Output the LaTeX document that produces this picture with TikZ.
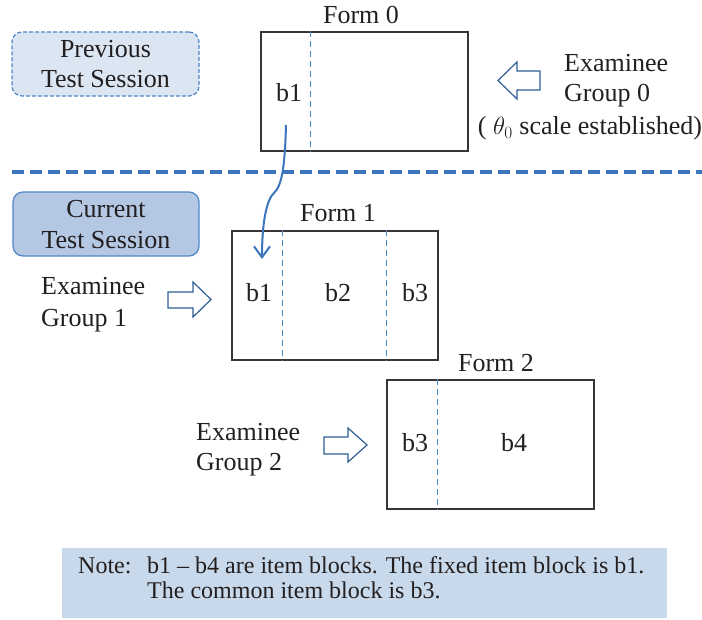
\documentclass[tikz,border=0pt]{standalone}
\usepackage{fontspec}
\setmainfont{Liberation Serif}
\usetikzlibrary{arrows.meta}
\definecolor{txt}{HTML}{231F20}
\definecolor{prevfill}{HTML}{DBE6F2}
\definecolor{curfill}{HTML}{B4C8E4}
\definecolor{boxedge}{HTML}{4F86C6}
\definecolor{notefill}{HTML}{C8D9EB}
\definecolor{sepblue}{HTML}{3B76BC}
\definecolor{innerblue}{HTML}{4A8AC9}
\definecolor{arrowblue}{HTML}{2E5E95}
\begin{document}
\begin{tikzpicture}[x=1pt,y=-1pt,
  lbl/.style={text=txt,inner sep=0pt,anchor=base,font=\fontsize{26}{31}\selectfont},
  notetxt/.style={text=txt,inner sep=0pt,anchor=base west,font=\fontsize{24}{25}\selectfont},
  formbox/.style={draw=txt!90,line width=1.4pt,inner sep=0pt,fill=white},
  prevbox/.style={draw=boxedge,dash pattern=on 4pt off 2pt,line width=1.2pt,fill=prevfill,rounded corners=10pt,inner sep=0pt},
  curbox/.style={draw=boxedge,line width=1.2pt,fill=curfill,rounded corners=10pt,inner sep=0pt},
  innerdash/.style={draw=innerblue,line width=1.5pt,dash pattern=on 6pt off 4pt},
  blockarrow/.style={draw=arrowblue,line width=1.2pt,fill=white,line join=miter},
]
\useasboundingbox (0,0) rectangle (702,620);

% session boxes
\node[prevbox,minimum width=187pt,minimum height=64pt] (prev) at (105.5,64) {};
\node[lbl] (prevA) at (105.5,58) {Previous};
\node[lbl] (prevB) at (105.5,88) {Test Session};
\node[curbox,minimum width=186pt,minimum height=64pt] (cur) at (106,224) {};
\node[lbl] (curA) at (106,218) {Current};
\node[lbl] (curB) at (106,249) {Test Session};

% separator
\draw[sepblue,line width=4pt,dash pattern=on 12pt off 6pt] (12,172) -- (702,172);

% Form 0
\node[lbl] (form0lbl) at (361,24) {Form 0};
\node[formbox,minimum width=207pt,minimum height=119pt] (f0) at (364.5,91.5) {};
\draw[innerdash] ([xshift=50pt]f0.north west) -- ([xshift=50pt]f0.south west);
\node[lbl] (f0b1) at (289,102) {b1};

% Group 0
\node[lbl,anchor=base west] (g0a) at (564,72) {Examinee};
\node[lbl,anchor=base west] (g0b) at (564,102) {Group 0};
\node[lbl] (g0c) at (590,135) {( $\theta_0$ scale established)};
\draw[blockarrow] (498,80.5) -- (517,62) -- (517,71) -- (540,71) -- (540,90) -- (517,90) -- (517,99) -- cycle;

% Form 1
\node[lbl] (form1lbl) at (338,222) {Form 1};
\node[formbox,minimum width=206pt,minimum height=129pt] (f1) at (335,295.5) {};
\draw[innerdash] ([xshift=51pt]f1.north west) -- ([xshift=51pt]f1.south west);
\draw[innerdash] ([xshift=155pt]f1.north west) -- ([xshift=155pt]f1.south west);
\node[lbl] (f1b1) at (259,302) {b1};
\node[lbl] (f1b2) at (338,302) {b2};
\node[lbl] (f1b3) at (415,302) {b3};

% Group 1
\node[lbl,anchor=base west] (g1a) at (41,295) {Examinee};
\node[lbl,anchor=base west] (g1b) at (41,327) {Group 1};
\draw[blockarrow] (211,299.5) -- (193,282) -- (193,292) -- (168,292) -- (168,308) -- (193,308) -- (193,317) -- cycle;

% Form 2
\node[lbl] (form2lbl) at (496,372) {Form 2};
\node[formbox,minimum width=207pt,minimum height=129pt] (f2) at (490.5,444.5) {};
\draw[innerdash] ([xshift=51pt]f2.north west) -- ([xshift=51pt]f2.south west);
\node[lbl] (f2b3) at (415,452) {b3};
\node[lbl] (f2b4) at (514,452) {b4};

% Group 2
\node[lbl,anchor=base west] (g2a) at (196,440) {Examinee};
\node[lbl,anchor=base west] (g2b) at (196,471) {Group 2};
\draw[blockarrow] (367,445) -- (348,428) -- (348,437) -- (324,437) -- (324,454) -- (348,454) -- (348,462) -- cycle;

% curved arrow b1 -> b1
\coordinate (cstart) at (286,125);
\coordinate (cend) at (262,259);
\draw[sepblue,line width=2pt,-{Straight Barb[length=11pt,width=16pt]}]
  (cstart) .. controls (285,160) and (283,185) .. (274,193)
  .. controls (266,200) and (262,225) .. (cend);

% note
\node[fill=notefill,minimum width=605pt,minimum height=70pt,inner sep=0pt] (note) at (364.5,583) {};
\node[notetxt] (noteA) at (78,573) {Note:};
\node[notetxt] (noteB) at (147,573) {b1 – b4 are item blocks. The fixed item block is b1.};
\node[notetxt] (noteC) at (147,598) {The common item block is b3.};
\end{tikzpicture}
\end{document}
